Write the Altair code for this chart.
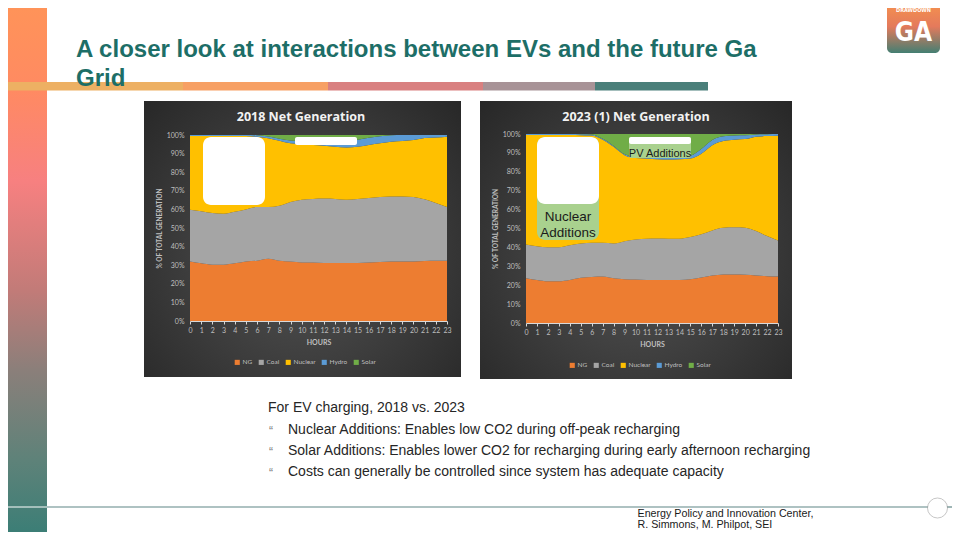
import altair as alt
import pandas as pd

# ---------------- layout helpers (page has an 8px margin) ----------------
W, H = 944, 524
OFF = 8


def X(v):
    return v - OFF


def Y(v):
    return v - OFF


# ---------------- data ----------------
hours = list(range(24))
sources = ["NG", "Coal", "Nuclear", "Hydro", "Solar"]
source_colors = ["#ed7d31", "#a5a5a5", "#ffc000", "#5b9bd5", "#70ad47"]
y_ticks = [0, 0.1, 0.2, 0.3, 0.4, 0.5, 0.6, 0.7, 0.8, 0.9, 1.0]

# 2018 shares of total generation (%), by hour 0..23
ng_2018 = [32.0, 31.0, 30.3, 30.3, 31.0, 32.0, 32.4, 33.5, 32.4, 32.0, 31.5, 31.4,
           31.2, 31.2, 31.2, 31.2, 31.4, 31.7, 32.0, 32.0, 32.0, 32.3, 32.4, 32.4]
coal_2018 = [27.8, 28.0, 27.7, 27.4, 27.7, 28.0, 28.9, 27.8, 29.6, 32.0, 33.7, 34.2,
             34.6, 34.4, 34.0, 34.4, 34.7, 35.0, 35.0, 35.0, 34.7, 33.1, 31.0, 28.9]
nuclear_2018 = [39.6, 40.4, 41.4, 41.7, 40.7, 39.4, 37.7, 36.9, 34.9, 31.5, 29.8, 29.0,
                28.4, 28.1, 28.1, 28.1, 28.5, 28.8, 29.4, 29.8, 30.6, 33.0, 35.3, 37.8]
hydro_2018 = [0.6, 0.6, 0.6, 0.6, 0.6, 0.6, 0.9, 1.0, 1.1, 1.5, 1.5, 1.6,
              2.0, 2.7, 3.5, 3.8, 3.9, 3.8, 3.4, 3.2, 2.7, 1.6, 1.3, 0.9]
solar_2018 = [0.0, 0.0, 0.0, 0.0, 0.0, 0.0, 0.1, 0.8, 2.0, 3.0, 3.5, 3.8,
              3.8, 3.6, 3.2, 2.5, 1.5, 0.7, 0.2, 0.0, 0.0, 0.0, 0.0, 0.0]

# 2023 (1) shares of total generation (%), by hour 0..23
ng_2023 = [23.7, 22.8, 22.1, 22.1, 22.8, 23.9, 24.4, 24.6, 23.7, 23.2, 23.0, 22.8,
           22.8, 22.8, 22.8, 23.2, 24.1, 25.1, 25.7, 25.7, 25.5, 25.1, 24.8, 24.6]
coal_2023 = [17.8, 17.8, 18.0, 18.0, 18.4, 18.2, 18.0, 17.8, 18.4, 20.1, 21.2, 21.8,
             21.9, 21.8, 21.8, 22.3, 22.8, 23.9, 24.7, 24.9, 24.9, 23.6, 21.2, 19.1]
nuclear_2023 = [58.0, 58.9, 59.4, 59.4, 58.3, 57.3, 56.8, 54.6, 51.1, 45.5, 43.1, 42.4,
                41.9, 41.9, 42.0, 41.5, 42.7, 45.1, 45.9, 46.4, 46.9, 49.9, 52.9, 55.4]
hydro_2023 = [0.5, 0.5, 0.5, 0.5, 0.5, 0.5, 0.6, 0.5, 0.5, 0.5, 0.6, 0.7,
              0.8, 1.0, 1.2, 1.5, 2.5, 2.7, 2.5, 2.2, 2.0, 1.2, 1.0, 0.9]
solar_2023 = [0.0, 0.0, 0.0, 0.0, 0.0, 0.1, 0.2, 2.5, 6.3, 10.7, 12.1, 12.3,
              12.6, 12.5, 12.2, 11.5, 7.9, 3.2, 1.2, 0.8, 0.7, 0.2, 0.1, 0.0]

title_line1 = "A closer look at interactions between EVs and the future Ga"
title_line2 = "Grid"
chart1_title = "2018 Net Generation"
chart2_title = "2023 (1) Net Generation"
body_head = "For EV charging, 2018 vs. 2023"
bullets = [
    "Nuclear Additions: Enables low CO2 during off-peak recharging",
    "Solar Additions: Enables lower CO2 for recharging during early afternoon recharging",
    "Costs can generally be controlled since system has adequate capacity",
]
footer = ["Energy Policy and Innovation Center,", "R. Simmons, M. Philpot, SEI"]


def long_frame(series):
    rows = []
    for k, (src, vals) in enumerate(zip(sources, series)):
        for h, v in zip(hours, vals):
            rows.append({"hour": h, "source": src, "share": v, "ord": k})
    return pd.DataFrame(rows)


df18 = long_frame([ng_2018, coal_2018, nuclear_2018, hydro_2018, solar_2018])
df23 = long_frame([ng_2023, coal_2023, nuclear_2023, hydro_2023, solar_2023])
one = pd.DataFrame({"d": [0]})

# ---------------- decoration helpers ----------------


def box(x1, y1, x2, y2, fill, **kw):
    return alt.Chart(one).mark_rect(color=fill, **kw).encode(
        x=alt.value(X(x1)), x2=alt.value(X(x2)), y=alt.value(Y(y1)), y2=alt.value(Y(y2))
    )


def label(x, y, s, size, color, weight="normal", align="left",
          font="Liberation Sans", baseline="alphabetic"):
    return alt.Chart(one).mark_text(
        text=s, fontSize=size, color=color, fontWeight=weight, align=align,
        font=font, baseline=baseline
    ).encode(x=alt.value(X(x)), y=alt.value(Y(y)))


def hline(x1, x2, y, color, width=1.0):
    return alt.Chart(one).mark_rule(color=color, strokeWidth=width).encode(
        x=alt.value(X(x1)), x2=alt.value(X(x2)), y=alt.value(Y(y))
    )


def vgrad(stops):
    return alt.Gradient(
        gradient="linear",
        stops=[alt.GradientStop(offset=o, color=c) for o, c in stops],
        x1=0, x2=0, y1=0, y2=1,
    )


chart_bg = alt.Gradient(
    gradient="radial",
    stops=[alt.GradientStop(offset=0, color="#545454"),
           alt.GradientStop(offset=1, color="#242424")],
    x1=0.5, y1=0.55, r1=0, x2=0.5, y2=0.55, r2=0.75,
)

AX_COL = "#bfbfbf"
CH_FONT = "Lato"


def area_panel(df, x0, x1, ybot, ytop, lx, ly):
    return alt.Chart(df).mark_area(interpolate="monotone").encode(
        x=alt.X(
            "hour:Q",
            scale=alt.Scale(domain=[0, 23], range=[X(x0), X(x1)], nice=False, zero=False),
            axis=alt.Axis(
                orient="bottom", offset=Y(ybot) - H, values=hours, title="HOURS",
                grid=False, domainColor="#d9d9d9", tickColor="#d9d9d9", tickSize=3,
                labelColor=AX_COL, labelFont=CH_FONT, labelFontSize=7, labelPadding=2,
                labelFlush=False, labelOverlap=False,
                titleColor=AX_COL, titleFont=CH_FONT, titleFontSize=7,
                titleFontWeight="bold", titlePadding=5, zindex=1,
            ),
        ),
        y=alt.Y(
            "share:Q", stack="normalize",
            scale=alt.Scale(domain=[0, 1], range=[Y(ybot), Y(ytop)], nice=False),
            axis=alt.Axis(
                orient="left", offset=-X(x0), values=y_ticks, format=".0%",
                title="% OF TOTAL GENERATION", grid=False, domain=False, ticks=False,
                labelColor=AX_COL, labelFont=CH_FONT, labelFontSize=7, labelPadding=6,
                titleColor=AX_COL, titleFont=CH_FONT, titleFontSize=6.5,
                titleFontWeight="bold", titlePadding=4, zindex=1,
            ),
        ),
        color=alt.Color(
            "source:N",
            scale=alt.Scale(domain=sources, range=source_colors),
            legend=alt.Legend(
                orient="none", legendX=X(lx), legendY=Y(ly), direction="horizontal",
                title=None, symbolType="square", symbolSize=26, symbolStrokeWidth=0,
                labelColor=AX_COL, labelFont=CH_FONT, labelFontSize=6.5,
                columnPadding=5, symbolOffset=0, labelOffset=2,
            ),
        ),
        order=alt.Order("ord:Q", sort="ascending"),
    )


# ---------------- slide decorations ----------------
left_bar = box(0, 0, 47, 532, vgrad([
    (0.0, "#ff9458"), (0.17, "#ff8a62"), (0.34, "#f78080"), (0.545, "#c27b78"),
    (0.695, "#8b7f7a"), (0.865, "#5e8279"), (1.0, "#3c7e76"),
]))
stripes = [
    box(0, 82, 183, 90.5, "#edb063"),
    box(183, 82, 328, 90.5, "#f7a064"),
    box(328, 82, 483, 90.5, "#d98080"),
    box(483, 82, 595, 90.5, "#a89397"),
    box(595, 82, 708, 90.5, "#4a7f7a"),
]
title1 = label(76, 57, title_line1, 24, "#1d6e67", weight="bold")
title2 = label(76, 86, title_line2, 24, "#1d6e67", weight="bold")

logo = box(887, 0, 940, 53, vgrad([(0, "#f7944c"), (0.5, "#e47a5c"), (1, "#447f72")]),
           cornerRadiusBottomLeft=5, cornerRadiusBottomRight=5)
logo_small = label(913.5, 12, "DRAWDOWN", 5.5, "white", weight="bold", align="center",
                   font="DejaVu Sans Condensed")
logo_big = label(913.5, 41, "GA", 26, "white", weight="bold", align="center",
                 font="DejaVu Sans Condensed")

# chart panels
panel1 = box(144, 101, 461, 377, chart_bg)
panel2 = box(480, 101, 792, 379, chart_bg)
ptitle1 = label(301, 117, chart1_title, 12.5, "#f2f2f2", weight="bold", align="center",
                font="Open Sans", baseline="middle")
ptitle2 = label(636, 117, chart2_title, 12.5, "#f2f2f2", weight="bold", align="center",
                font="Open Sans", baseline="middle")

area18 = area_panel(df18, 190, 447, 321, 135, 234, 359)
area23 = area_panel(df23, 526, 778, 323, 134, 569, 362)

# annotations on the charts
ann = [
    box(203, 137, 265, 205, "white", cornerRadius=8),
    box(295, 137, 357, 145, "white", cornerRadius=2),
    box(537, 137, 599, 240, "#a9d18e", cornerRadius=8),
    box(537, 137, 599, 204, "white", cornerRadius=8),
    box(629, 137, 691, 158, "#a9d18e", cornerRadius=2),
    box(629, 137, 691, 144, "white", cornerRadius=2),
    label(568, 220.5, "Nuclear", 13.5, "#1a1a1a", align="center"),
    label(568, 236.5, "Additions", 13.5, "#1a1a1a", align="center"),
    label(660, 156.5, "PV Additions", 11, "#1a1a1a", align="center"),
]

# body text
body = [label(268, 412, body_head, 14, "#262626")]
for i, b in enumerate(bullets):
    yb = 434 + 21 * i
    body.append(label(269, yb + 1, "\u201c", 12, "#7a7a7a"))
    body.append(label(288, yb, b, 14, "#262626"))

# footer
foot = [
    hline(47, 928, 507, "#5f8585", 1.2),
    hline(947, 960, 507, "#5f8585", 1.2),
    hline(0, 47, 507, "#ffffff", 1.0),
    alt.Chart(one).mark_point(shape="circle", filled=False, size=400, color="#9a9a9a",
                              strokeWidth=0.8).encode(x=alt.value(X(937.5)), y=alt.value(Y(508))),
    label(637.5, 516.5, footer[0], 10.7, "#1a1a1a"),
    label(637.5, 528, footer[1], 10.7, "#1a1a1a"),
]

layers = ([left_bar] + stripes + [title1, title2, logo, logo_small, logo_big,
          panel1, panel2, ptitle1, ptitle2, area18, area23] + ann + body + foot)

chart = alt.layer(*layers).resolve_scale(
    x="independent", y="independent", color="independent"
).resolve_axis(x="independent", y="independent").resolve_legend(
    color="independent"
).properties(
    width=W, height=H, autosize=alt.AutoSizeParams(type="none"), padding=0,
    background="white",
).configure_view(stroke=None)

chart.save("out.html", embed_options={"renderer": "svg", "actions": False})
